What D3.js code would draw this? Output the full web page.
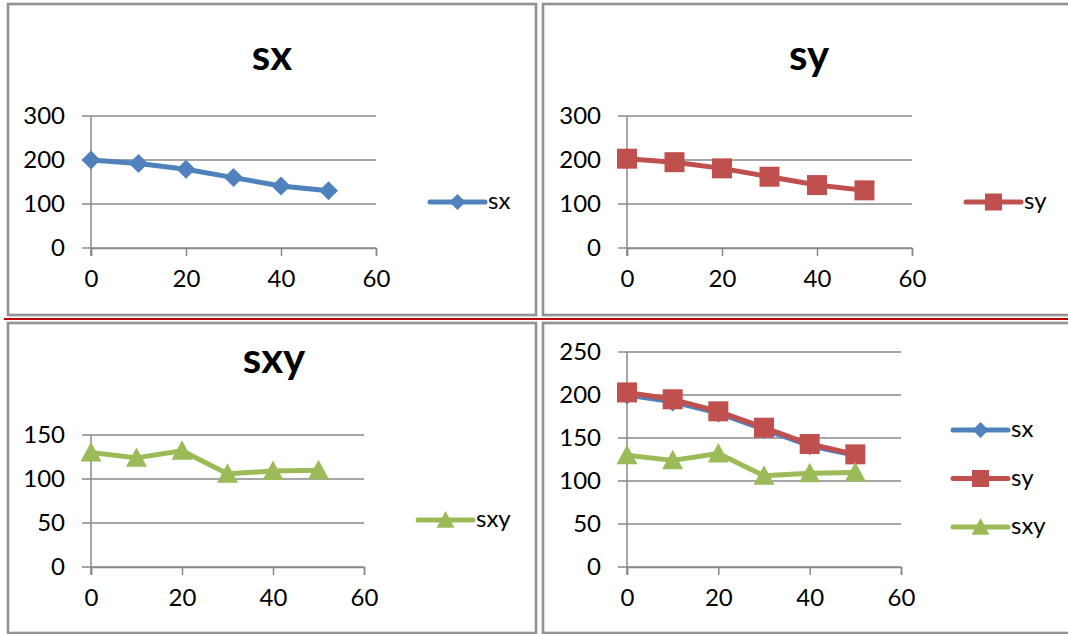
<!DOCTYPE html>
<html>
<head>
<meta charset="utf-8">
<script src="https://cdn.jsdelivr.net/npm/d3@7/dist/d3.min.js"></script>
<style>
  html, body { margin: 0; padding: 0; background: #fff; }
  svg { display: block; }
  text { font-family: Lato, "Open Sans", sans-serif; fill: #000; }
</style>
</head>
<body>
<svg id="chart" width="1068" height="634"></svg>
<script>
// ---- data ----
const xValues   = [0, 10, 20, 30, 40, 50];
const sxValues  = [200, 192, 179, 160, 141, 130];
const syValues  = [203, 195, 181, 162, 143, 131];
const sxyValues = [130, 124, 132, 106, 109, 110];
const xTicks    = [0, 20, 40, 60];
const yTicksA   = [0, 100, 200, 300];
const yTicksB   = [0, 50, 100, 150];
const yTicksC   = [0, 50, 100, 150, 200, 250];
const seriesNames = ["sx", "sy", "sxy"];

const colors = { sx: "#4F81BD", sy: "#C0504D", sxy: "#9BBB59" };
const seriesData = { sx: sxValues, sy: syValues, sxy: sxyValues };
const markerShape = { sx: "diamond", sy: "square", sxy: "triangle" };

const svg = d3.select("#chart");

const panels = [
  { box: [8, 4, 528, 311], title: "sx", series: ["sx"], yTicks: yTicksA,
    x: [91, 376], y: [248, 116], titleXY: [272, 70], legend: { x: 430, y: 202, gap: 0 } },
  { box: [543, 4, 540, 311], title: "sy", series: ["sy"], yTicks: yTicksA,
    x: [627, 912], y: [248, 116], titleXY: [809, 70], legend: { x: 966, y: 202, gap: 0 } },
  { box: [8, 323, 528, 310], title: "sxy", series: ["sxy"], yTicks: yTicksB,
    x: [91, 364], y: [567, 435], titleXY: [274, 373], legend: { x: 418, y: 520, gap: 0 } },
  { box: [543, 323, 540, 310], title: null, series: ["sx", "sy", "sxy"], yTicks: yTicksC,
    x: [627, 901], y: [567, 352], titleXY: null, legend: { x: 953, y: 430, gap: 48.5 } }
];

function markerPath(shape, size) {
  const s = size / 2;
  if (shape === "diamond") return `M0,${-s}L${s},0L0,${s}L${-s},0Z`;
  if (shape === "square") return `M${-s},${-s}H${s}V${s}H${-s}Z`;
  // triangle
  return `M0,${-s}L${s},${s * 0.85}L${-s},${s * 0.85}Z`;
}
const markerSize = { diamond: 19, square: 20, triangle: 21 };
const legendMarkerSize = { diamond: 16, square: 17, triangle: 18 };

panels.forEach(p => {
  const g = svg.append("g");
  // border
  g.append("rect")
    .attr("x", p.box[0]).attr("y", p.box[1])
    .attr("width", p.box[2]).attr("height", p.box[3])
    .attr("fill", "#fff").attr("stroke", "#c4c4c4").attr("stroke-width", 3.2);
  g.append("rect")
    .attr("x", p.box[0]).attr("y", p.box[1])
    .attr("width", p.box[2]).attr("height", p.box[3])
    .attr("fill", "none").attr("stroke", "#878787").attr("stroke-width", 1.6);

  const xs = d3.scaleLinear().domain([0, 60]).range(p.x);
  const ys = d3.scaleLinear().domain([0, d3.max(p.yTicks)]).range(p.y);

  // gridlines (with left tick extension)
  g.append("g").selectAll("line").data(p.yTicks).join("line")
    .attr("x1", p.x[0] - 9).attr("x2", p.x[1])
    .attr("y1", d => ys(d)).attr("y2", d => ys(d))
    .attr("stroke", "#898989").attr("stroke-width", 1.5);

  // y axis line
  g.append("line")
    .attr("x1", p.x[0]).attr("x2", p.x[0])
    .attr("y1", ys(d3.max(p.yTicks))).attr("y2", ys(0) + 8)
    .attr("stroke", "#898989").attr("stroke-width", 1.5);

  // x axis via d3 axis
  const xAxis = d3.axisBottom(xs).tickValues(xTicks).tickSize(8).tickPadding(14).tickFormat(d3.format("d"));
  const xa = g.append("g").attr("transform", `translate(0,${ys(0)})`).call(xAxis);
  xa.select(".domain").attr("stroke", "#898989").attr("stroke-width", 1.5);
  xa.selectAll(".tick line").attr("stroke", "#898989").attr("stroke-width", 1.5);
  xa.selectAll(".tick text").attr("font-size", 24).attr("font-family", "Lato, sans-serif").attr("fill", "#000");

  // y axis labels via d3 axis
  const yAxis = d3.axisLeft(ys).tickValues(p.yTicks).tickSize(0).tickPadding(26).tickFormat(d3.format("d"));
  const ya = g.append("g").attr("transform", `translate(${p.x[0]},0)`).call(yAxis);
  ya.select(".domain").remove();
  ya.selectAll(".tick text").attr("font-size", 24).attr("font-family", "Lato, sans-serif").attr("fill", "#000");

  // title
  if (p.title) {
    g.append("text")
      .attr("x", p.titleXY[0]).attr("y", p.titleXY[1])
      .attr("text-anchor", "middle")
      .attr("font-size", 42).attr("font-weight", "bold")
      .text(p.title);
  }

  // series
  const line = d3.line().x((d, i) => xs(xValues[i])).y(d => ys(d));
  p.series.forEach(name => {
    const vals = seriesData[name];
    g.append("path").datum(vals)
      .attr("d", line)
      .attr("fill", "none").attr("stroke", colors[name])
      .attr("stroke-width", 5).attr("stroke-linejoin", "round").attr("stroke-linecap", "round");
    const shape = markerShape[name];
    g.append("g").selectAll("path").data(vals).join("path")
      .attr("transform", (d, i) => `translate(${xs(xValues[i])},${ys(d)})`)
      .attr("d", markerPath(shape, markerSize[shape]))
      .attr("fill", colors[name]);
  });

  // legend
  p.series.forEach((name, i) => {
    const ly = p.legend.y + i * p.legend.gap;
    const lx = p.legend.x;
    g.append("line")
      .attr("x1", lx).attr("x2", lx + 55)
      .attr("y1", ly).attr("y2", ly)
      .attr("stroke", colors[name]).attr("stroke-width", 5).attr("stroke-linecap", "round");
    const shape = markerShape[name];
    g.append("path")
      .attr("transform", `translate(${lx + 27.5},${ly})`)
      .attr("d", markerPath(shape, legendMarkerSize[shape]))
      .attr("fill", colors[name]);
    g.append("text")
      .attr("x", lx + 58).attr("y", ly + 7)
      .attr("font-size", 24)
      .text(name);
  });
});

// red separator line
svg.append("line")
  .attr("x1", 4).attr("x2", 1068).attr("y1", 319).attr("y2", 319)
  .attr("stroke", "#C00000").attr("stroke-width", 2.2);
</script>
</body>
</html>
